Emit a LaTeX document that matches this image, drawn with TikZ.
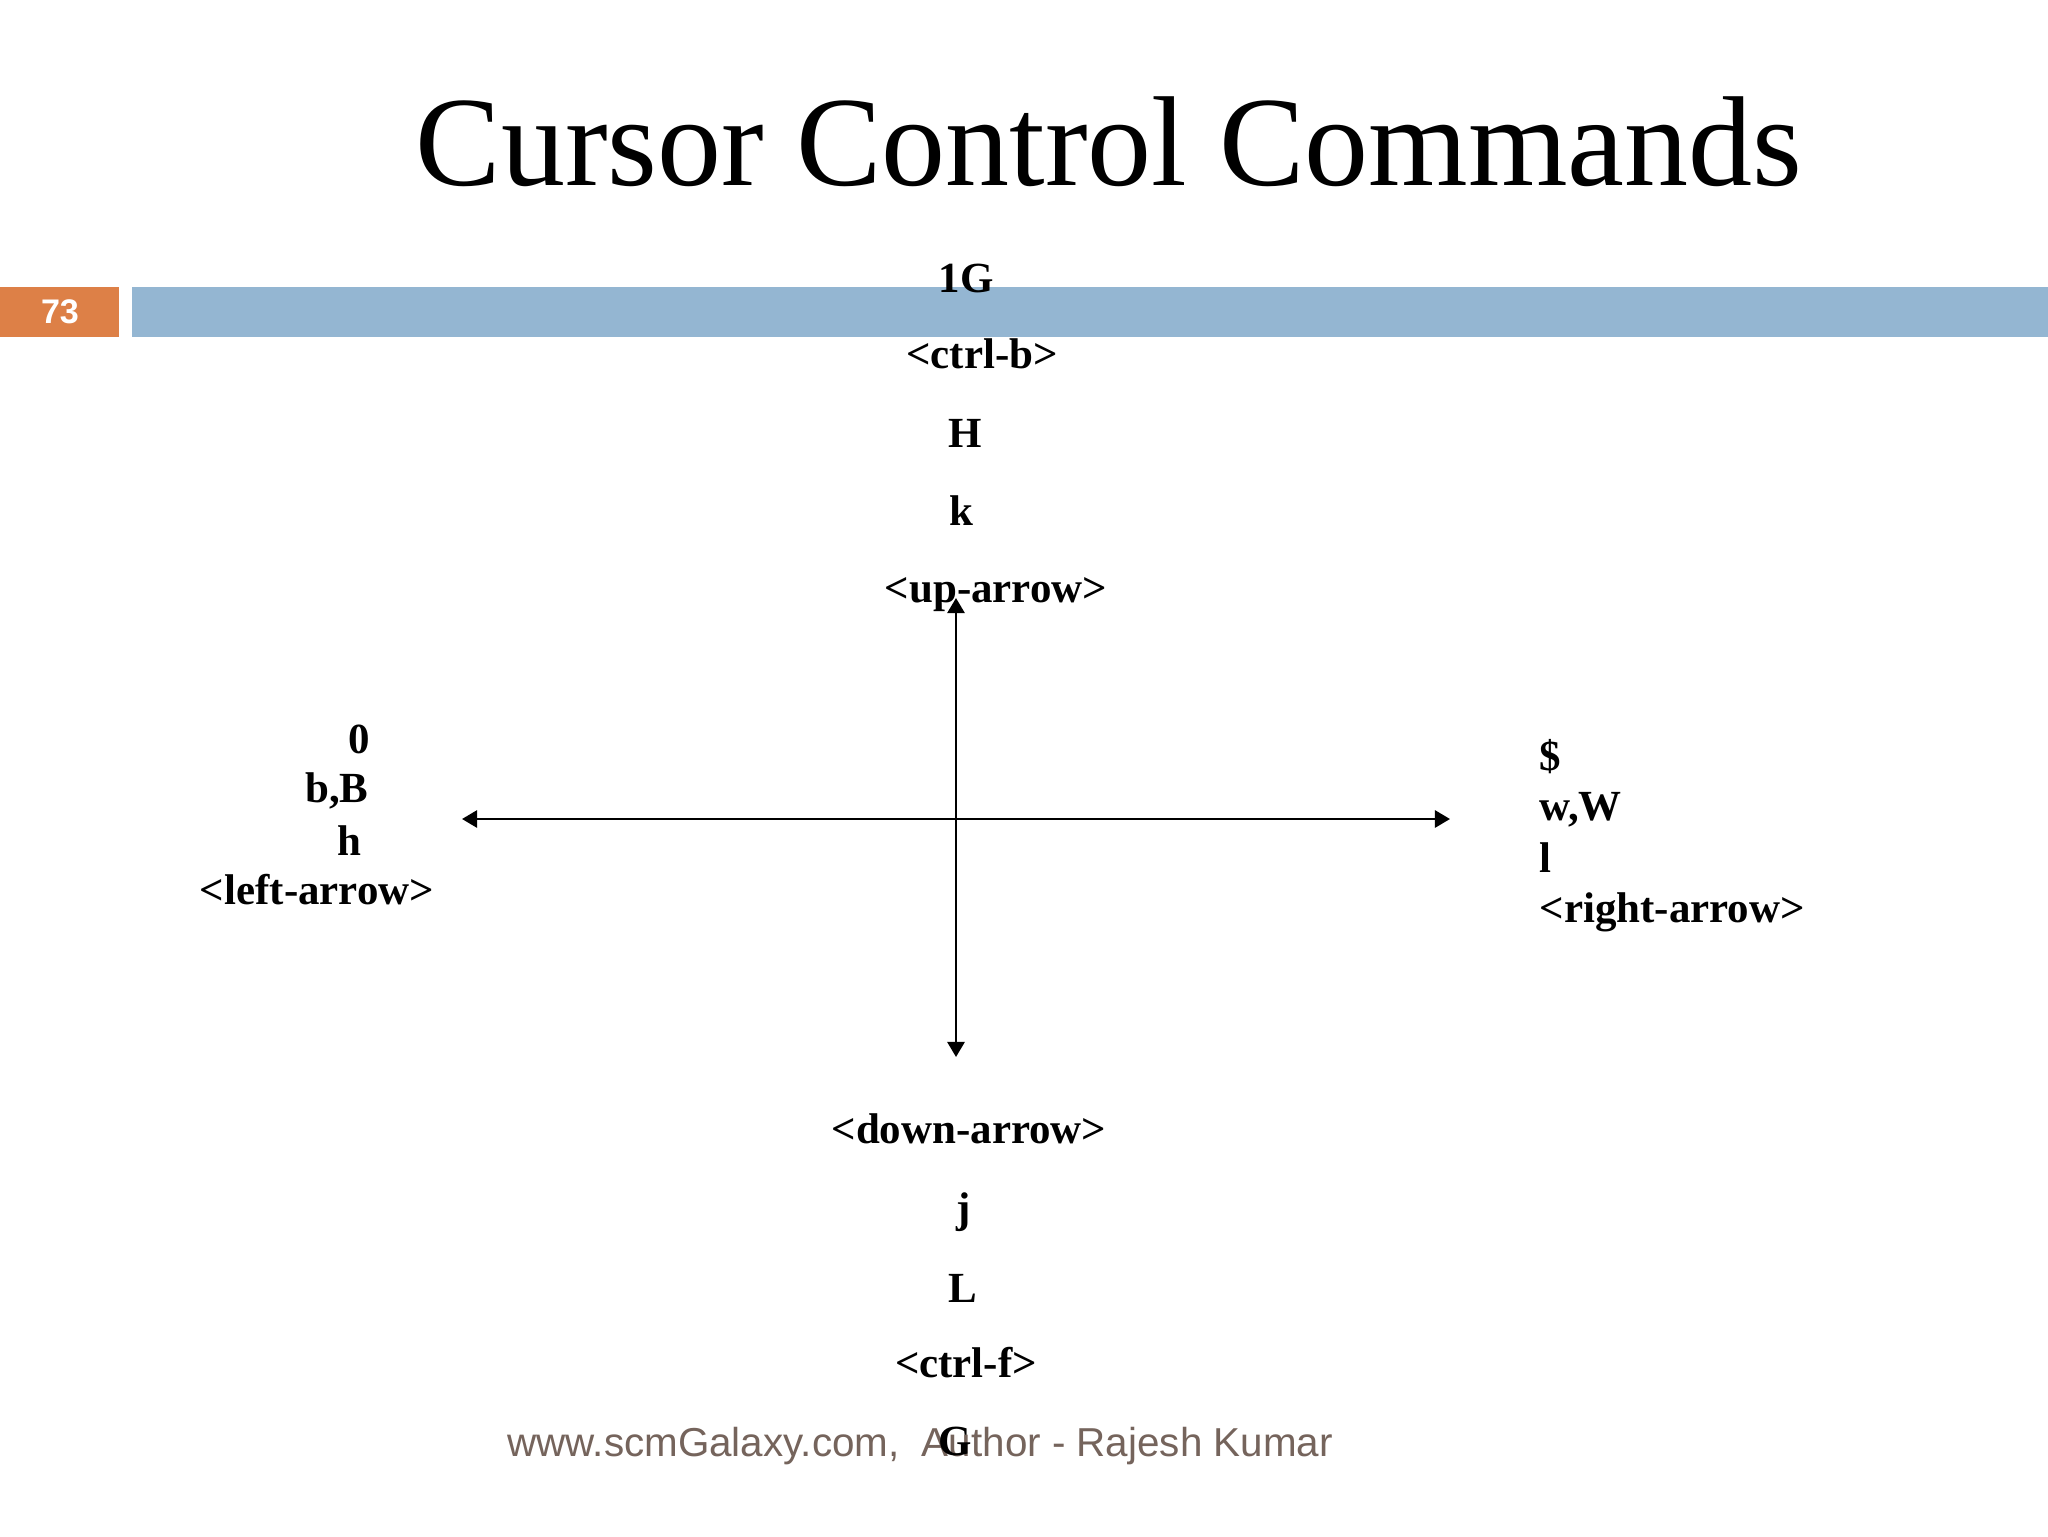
\documentclass[tikz,border=0pt]{standalone}
\usepackage{fontspec}
\setmainfont{Liberation Serif}
\newfontfamily\slidesans{Liberation Sans}
\definecolor{SlideOrange}{RGB}{221,128,71}
\definecolor{SlideBlue}{RGB}{148,182,210}
\definecolor{FooterBrown}{RGB}{117,100,92}
\usetikzlibrary{
    arrows.meta,
    positioning
}

\begin{document}
\begin{tikzpicture}[
    x=0.3516pt,
    y=-0.3516pt,
%
    slidetitle/.style={
        font=\fontsize{45}{54}\selectfont,
        inner sep=0pt,
        anchor=base
    },
%
    keyname/.style={
        font=\fontsize{15.1}{18}\selectfont\bfseries,
        inner sep=0pt,
        anchor=base
    },
%
    footer/.style={
        font=\slidesans\fontsize{14.2}{17}\selectfont,
        text=FooterBrown,
        inner sep=0pt,
        anchor=base west
    },
%
    arrow/.style={
        -{Triangle[length=5.3pt,width=6pt]},
        line width=0.95pt,
        color=black
    }
]
%
% Page and header bar
%
\useasboundingbox[fill=white] (0,0) rectangle (2048,1536);
\fill[SlideOrange] (0,287) rectangle (119,337);
\fill[SlideBlue] (132,287) rectangle (2048,337);
\node[
    font=\slidesans\bfseries\fontsize{12}{14}\selectfont,
    text=white
] (pagenum) at (60,312) {73};
%
\node[slidetitle] (title) at (1109,185) {Cursor Control Commands};
%
% Axis cross
%
\coordinate (centre) at (956,819);
\coordinate (uptip) at (956,598);
\coordinate (downtip) at (956,1057);
\coordinate (lefttip) at (462,819);
\coordinate (righttip) at (1450,819);
%
\draw[arrow] (centre) -- (uptip);
\draw[arrow] (centre) -- (downtip);
\draw[arrow] (centre) -- (lefttip);
\draw[arrow] (centre) -- (righttip);
%
% Moving up
%
\node[keyname] (upfirst) at (966,292) {1G};
\node[keyname] (upctrl) at (982,368) {<ctrl-b>};
\node[keyname] (uphigh) at (965,447) {H};
\node[keyname] (upk) at (961,525) {k};
\node[keyname] (uparrow) at (996,602) {<up-arrow>};
%
% Moving down
%
\node[keyname] (downarrow) at (969,1143) {<down-arrow>};
\node[keyname] (downj) at (964,1222) {j};
\node[keyname] (downlow) at (963,1302) {L};
\node[keyname] (downctrl) at (966,1377) {<ctrl-f>};
%
% Moving left
%
\node[keyname] (leftzero) at (359,753) {0};
\node[keyname] (leftword) at (337,802) {b,B};
\node[keyname] (lefth) at (349,855) {h};
\node[keyname] (leftarrow) at (317,904) {<left-arrow>};
%
% Moving right
%
\node[keyname, anchor=base west] (rightend) at (1539,770) {\$};
\node[keyname, anchor=base west] (rightword) at (1539,820) {w,W};
\node[keyname, anchor=base west] (rightl) at (1539,872) {l};
\node[keyname, anchor=base west] (rightarrow) at (1539,922) {<right-arrow>};
%
% Footer
%
\node[footer] (credit) at (507,1456) {www.scmGalaxy.com,\ \ Author - Rajesh Kumar};
\node[keyname] (downlast) at (955,1455) {G};
%
\end{tikzpicture}
\end{document}
